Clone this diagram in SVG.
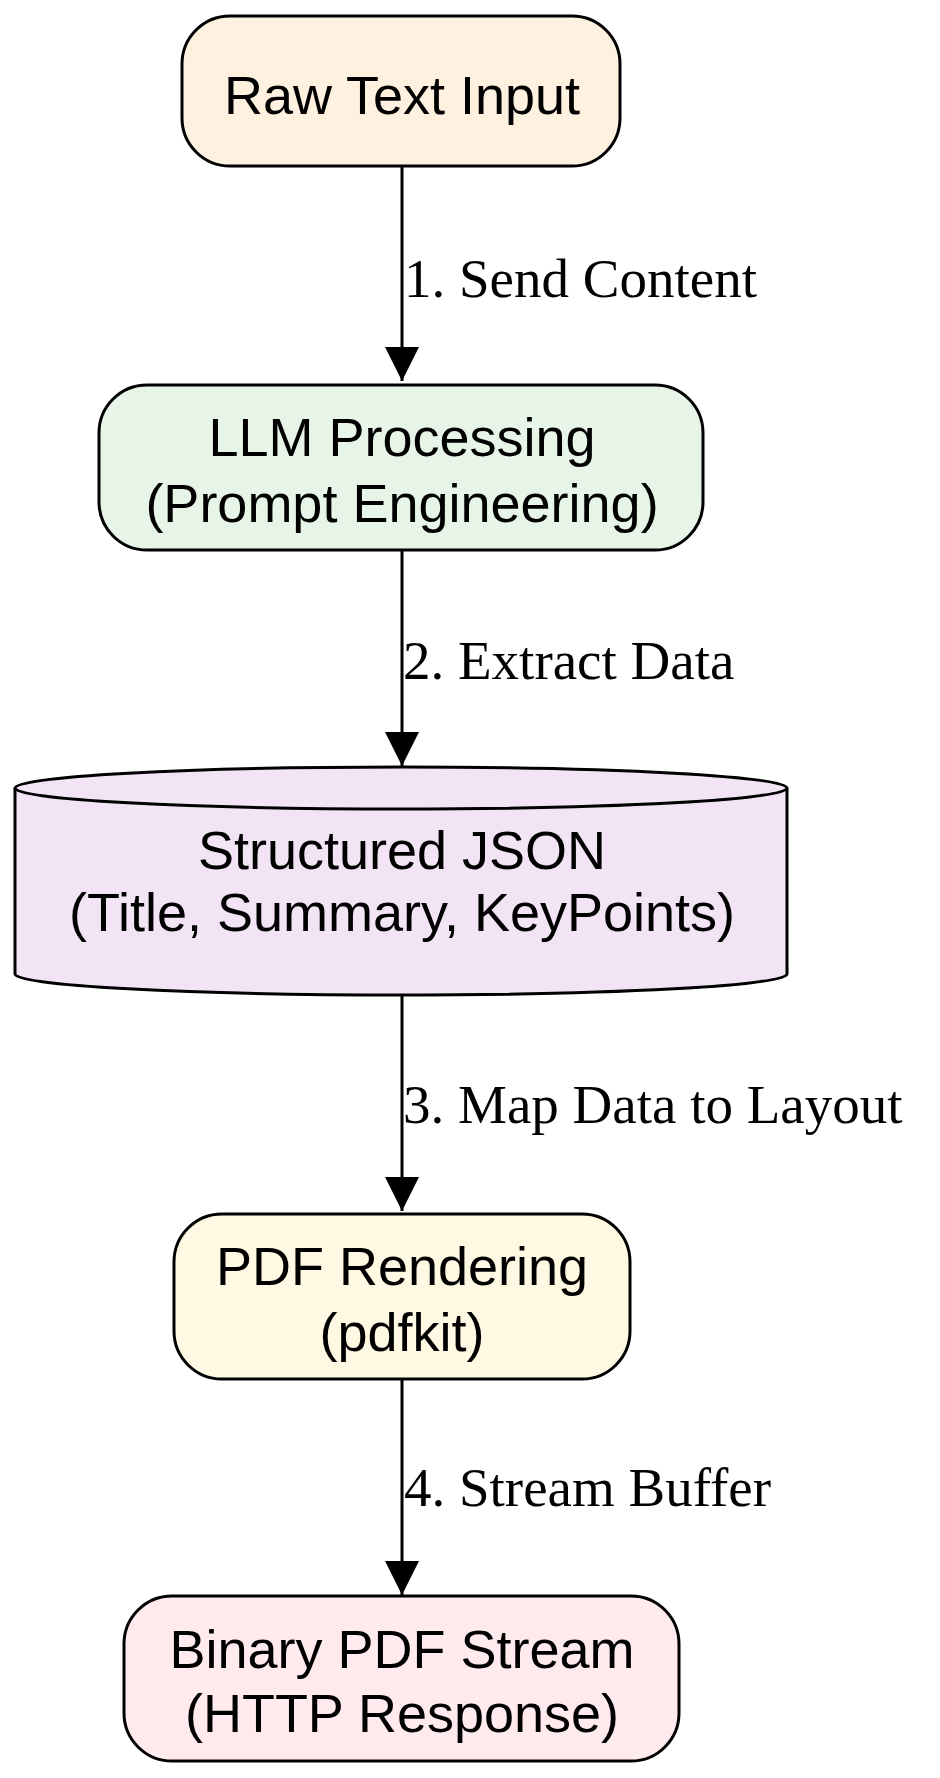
<svg xmlns="http://www.w3.org/2000/svg" width="940" height="1778" viewBox="0 0 940 1778">
<style>
.n{stroke:#000;stroke-width:3}
.t{font-family:"Liberation Sans",Arial,sans-serif;font-size:54px;text-anchor:middle;fill:#000}
.l{font-family:"Liberation Serif","Times New Roman",serif;font-size:55px;fill:#000}
.e{stroke:#000;stroke-width:3;fill:none}
</style>
<defs><marker id="a" markerUnits="userSpaceOnUse" markerWidth="36" markerHeight="50" refX="34" refY="17" orient="auto"><path d="M0,0 L34,17 L0,34 Z" fill="#000"/></marker></defs>
<rect width="940" height="1778" fill="#fff"/>
<g id="connectors">
<path class="e" d="M402,166 V381" marker-end="url(#a)"/>
<text class="l" x="404" y="297">1. Send Content</text>
<path class="e" d="M402,550 V766" marker-end="url(#a)"/>
<text class="l" x="403" y="679">2. Extract Data</text>
<path class="e" d="M402,995 V1211" marker-end="url(#a)"/>
<text class="l" x="403" y="1123">3. Map Data to Layout</text>
<path class="e" d="M402,1379 V1595" marker-end="url(#a)"/>
<text class="l" x="404" y="1506">4. Stream Buffer</text>
</g>
<g id="raw"><rect class="n" x="182" y="16" width="438" height="150" rx="48" fill="#fff1df"/><text class="t" x="402" y="114">Raw Text Input</text></g>
<g id="llm"><rect class="n" x="99" y="385" width="604" height="165" rx="48" fill="#e7f5e8"/><text class="t" x="402" y="456">LLM Processing</text><text class="t" x="402" y="522">(Prompt Engineering)</text></g>
<g id="json"><path class="n" fill="#f2e4f5" d="M15,788 A386,21 0 0 1 787,788 V974 A386,21 0 0 1 15,974 Z"/><path class="n" fill="none" d="M15,788 A386,21 0 0 0 787,788"/><text class="t" x="402" y="869">Structured JSON</text><text class="t" x="402" y="931">(Title, Summary, KeyPoints)</text></g>
<g id="pdf"><rect class="n" x="174" y="1214" width="456" height="165" rx="48" fill="#fff8e2"/><text class="t" x="402" y="1285">PDF Rendering</text><text class="t" x="402" y="1351">(pdfkit)</text></g>
<g id="bin"><rect class="n" x="124" y="1596" width="555" height="165" rx="48" fill="#ffebee"/><text class="t" x="402" y="1668">Binary PDF Stream</text><text class="t" x="402" y="1732">(HTTP Response)</text></g>
</svg>
